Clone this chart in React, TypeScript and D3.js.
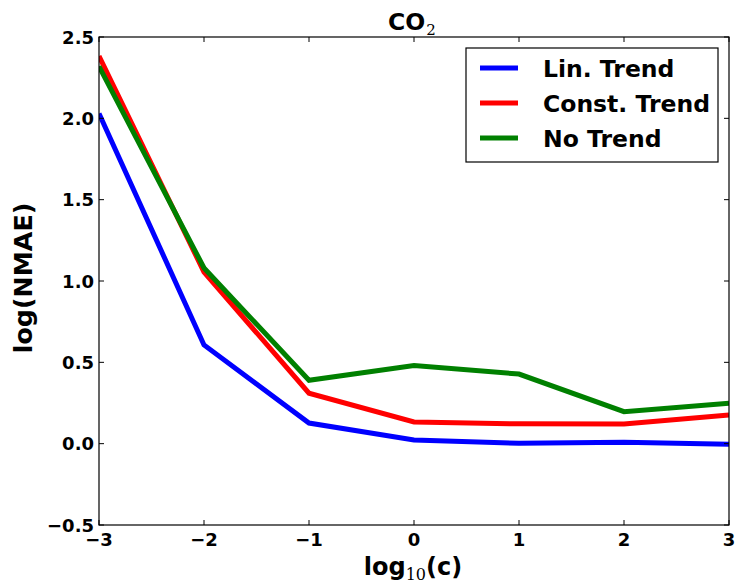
import React from "react";
import * as d3 from "d3";

const xValues = [-3, -2, -1, 0, 1, 2, 3];
const linTrend = [2.03, 0.607, 0.127, 0.023, 0.002, 0.008, -0.003];
const constTrend = [2.383, 1.055, 0.31, 0.133, 0.122, 0.121, 0.176];
const noTrend = [2.32, 1.08, 0.39, 0.48, 0.428, 0.197, 0.248];
const seriesNames = ["Lin. Trend", "Const. Trend", "No Trend"];
const seriesColors = ["#0000ff", "#ff0000", "#008000"];
const xTicks = [-3, -2, -1, 0, 1, 2, 3];
const yTicks = [-0.5, 0, 0.5, 1.0, 1.5, 2.0, 2.5];

const W = 736, H = 588;
const L = 99, R = 729, T = 37, B = 525;

export default function App() {
  const x = d3.scaleLinear().domain([-3, 3]).range([L, R]);
  const y = d3.scaleLinear().domain([-0.5, 2.5]).range([B, T]);
  const series = [linTrend, constTrend, noTrend];
  const line = d3.line<number>().x((_, i) => x(xValues[i])).y((d) => y(d));
  const fmt = (v: number) => {
    const s = v.toFixed(1);
    return v < 0 ? "\u2212" + s.slice(1) : s;
  };
  const fmtX = (v: number) => (v < 0 ? "\u2212" + Math.abs(v) : String(v));
  const font = "'DejaVu Sans', sans-serif";
  return (
    <svg width={W} height={H} style={{ position: "absolute", left: 0, top: 0 }} fontFamily={font}>
      <rect width={W} height={H} fill="#fff" />
      <defs>
        <clipPath id="clip">
          <rect x={L} y={T} width={R - L} height={B - T} />
        </clipPath>
      </defs>
      <g clipPath="url(#clip)">
        {series.map((s, i) => (
          <path key={i} d={line(s) || ""} fill="none" stroke={seriesColors[i]} strokeWidth={5} strokeLinejoin="miter" />
        ))}
      </g>
      <rect x={L} y={T} width={R - L} height={B - T} fill="none" stroke="#000" strokeWidth={1.2} />
      {xTicks.map((t) => (
        <g key={"x" + t}>
          <line x1={x(t)} x2={x(t)} y1={B} y2={B - 5} stroke="#000" />
          <line x1={x(t)} x2={x(t)} y1={T} y2={T + 5} stroke="#000" />
          <text x={x(t)} y={546} textAnchor="middle" fontSize={18} fontWeight="bold">{fmtX(t)}</text>
        </g>
      ))}
      {yTicks.map((t) => (
        <g key={"y" + t}>
          <line x1={L} x2={L + 5} y1={y(t)} y2={y(t)} stroke="#000" />
          <line x1={R} x2={R - 5} y1={y(t)} y2={y(t)} stroke="#000" />
          <text x={94} y={y(t) + 6.5} textAnchor="end" fontSize={18} fontWeight="bold">{fmt(t)}</text>
        </g>
      ))}
      <text x={388} y={30} fontSize={23.5} fontWeight="bold" textAnchor="start">
        CO<tspan fontFamily="'DejaVu Serif', serif" fontWeight="normal" fontSize={15} dx={1} dy={5}>2</tspan>
      </text>
      <text x={413} y={575} fontSize={24} fontWeight="bold" textAnchor="middle">
        log<tspan fontFamily="'DejaVu Serif', serif" fontWeight="normal" fontSize={16} dy={5}>10</tspan><tspan dy={-5}>(c)</tspan>
      </text>
      <text transform={`translate(32,278) rotate(-90)`} fontSize={25.3} fontWeight="bold" textAnchor="middle">log(NMAE)</text>
      <rect x={466} y={48} width={252} height={114} fill="#fff" stroke="#000" strokeWidth={1.2} />
      {seriesNames.map((n, i) => (
        <g key={n}>
          <line x1={480} x2={518} y1={68 + i * 35} y2={68 + i * 35} stroke={seriesColors[i]} strokeWidth={5} />
          <text x={543} y={68 + i * 35 + 9} fontSize={23.5} fontWeight="bold">{n}</text>
        </g>
      ))}
    </svg>
  );
}
